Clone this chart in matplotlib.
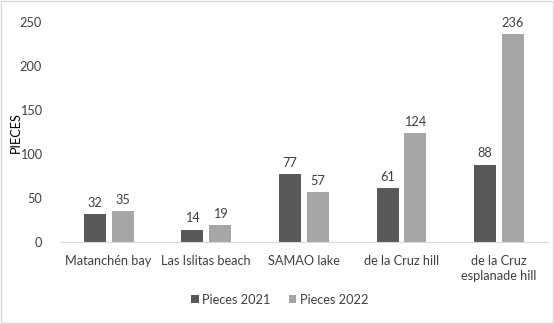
import matplotlib
matplotlib.use("Agg")
import matplotlib.pyplot as plt
import numpy as np

categories = ["Matanchén bay", "Las Islitas beach", "SAMAO lake", "de la Cruz hill", "de la Cruz\nesplanade hill"]
pieces_2021 = [32, 14, 77, 61, 88]
pieces_2022 = [35, 19, 57, 124, 236]
yticks = [0, 50, 100, 150, 200, 250]

plt.rcParams['font.family'] = ['Lato', 'DejaVu Sans']
txt = '#404040'
fs = 9.2

fig = plt.figure(figsize=(5.54, 3.24), dpi=100)
ax = fig.add_axes([0.108, 0.253, 0.881, 0.679])

x = np.arange(len(categories))
w = 0.225
gap = 0.03
b1 = ax.bar(x - w/2 - gap, pieces_2021, w, color='#595959', label='Pieces 2021')
b2 = ax.bar(x + w/2 + gap, pieces_2022, w, color='#A6A6A6', label='Pieces 2022')
for bars, vals in ((b1, pieces_2021), (b2, pieces_2022)):
    for r, v in zip(bars, vals):
        ax.text(r.get_x() + r.get_width()/2, v + 6, str(v), ha='center', va='bottom',
                fontsize=fs, color=txt)

ax.set_xlim(-0.5, len(categories) - 0.5)
ax.set_ylim(0, 250)
ax.set_yticks(yticks)
ax.set_xticks(x)
ax.set_xticklabels(categories, fontsize=fs, color=txt, linespacing=1.35)
ax.tick_params(axis='y', length=0, labelsize=fs, labelcolor=txt, pad=13)
ax.tick_params(axis='x', length=0, pad=9)
for s in ('top', 'right', 'left'):
    ax.spines[s].set_visible(False)
ax.spines['bottom'].set_color('#d9d9d9')
fig.text(0.029, 0.59, 'PIECES', rotation=90, ha='center', va='center', fontsize=fs, color='black')

fig.legend(handles=[b1, b2], loc='center', bbox_to_anchor=(0.505, 0.075), ncol=2,
           frameon=False, fontsize=fs, handlelength=0.6, handleheight=0.6,
           handletextpad=0.3, columnspacing=1.4, labelcolor=txt)

fig.patches.append(plt.Rectangle((0.002, 0.003), 0.996, 0.994, transform=fig.transFigure,
                                 fill=False, edgecolor='#d9d9d9', linewidth=1))
fig.savefig('out.png', dpi=100)
